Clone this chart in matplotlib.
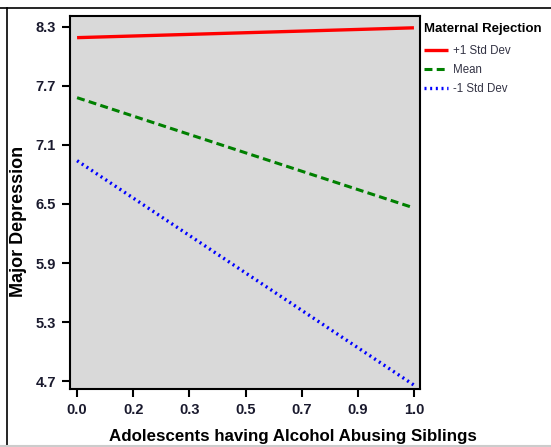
import matplotlib.pyplot as plt
from matplotlib.lines import Line2D

plt.rcParams['font.family'] = ['Liberation Sans', 'DejaVu Sans']

# simple slopes: predicted depression at the two ends of the sibling variable
x_ends = [0.0, 1.0]
plus_sd = [8.19, 8.29]
mean_line = [7.58, 6.46]
minus_sd = [6.94, 4.66]

series_labels = ['+1 Std Dev', 'Mean', '-1 Std Dev']
x_tick_pos = [0, 1/6, 2/6, 3/6, 4/6, 5/6, 1]
x_tick_labels = ['0.0', '0.2', '0.3', '0.5', '0.7', '0.9', '1.0']
y_ticks = [4.7, 5.3, 5.9, 6.5, 7.1, 7.7, 8.3]

fig = plt.figure(figsize=(5.51, 4.47), dpi=100)
ax = fig.add_axes([70/551, 1 - 389/447, 350/551, 373/447])
ax.set_facecolor('#d9d9d9')

ax.plot(x_ends, plus_sd, color='#ff0000', lw=2.4, solid_capstyle='butt', label=series_labels[0])
ax.plot(x_ends, mean_line, color='#008000', lw=2.2, ls=(0, (2.6, 1.4)), label=series_labels[1])
ax.plot(x_ends, minus_sd, color='#0000ff', lw=2.4, ls=(0, (0.6, 1.1)), label=series_labels[2])

ax.set_xlim(-0.021, 1.018)
ax.set_ylim(4.62, 8.41)
ax.set_xticks(x_tick_pos)
ax.set_xticklabels(x_tick_labels)
ax.set_yticks(y_ticks)
ax.set_yticklabels([f'{v:.1f}' for v in y_ticks])
ax.tick_params(direction='out', length=6, width=1.5, color='black', pad=4)
for lab in ax.get_xticklabels() + ax.get_yticklabels():
    lab.set_fontweight('bold')
    lab.set_fontsize(10.5)
    lab.set_color('#1a1a2e')
for s in ax.spines.values():
    s.set_linewidth(1.5)

fig.text(293/551, 1 - 437/447, 'Adolescents having Alcohol Abusing Siblings',
         ha='center', va='center', fontsize=12.2, fontweight='bold')
fig.text(19/551, 1 - 221/447, 'Major Depression', rotation=90,
         ha='center', va='center', fontsize=13, fontweight='bold')

leg = ax.legend(loc='upper left', bbox_to_anchor=(419/551, 1 - 18/447),
                bbox_transform=fig.transFigure, frameon=False,
                title='Maternal Rejection', fontsize=8.3,
                title_fontproperties={'weight': 'bold', 'size': 9.5},
                handlelength=2.1, handletextpad=0.45, labelspacing=0.62,
                borderaxespad=0, alignment='left')
leg._legend_box.sep = 7.5  # a little more room under the title
for t in leg.get_texts():
    t.set_color('#333344')

# outer frame lines
fig.add_artist(Line2D([0, 1], [1 - 8/447, 1 - 8/447], transform=fig.transFigure, color='black', lw=1.2))
fig.add_artist(Line2D([7/551, 7/551], [1 - 8/447, 1 - 445/447], transform=fig.transFigure, color='black', lw=1.2))
fig.add_artist(Line2D([0, 1], [1 - 445.5/447, 1 - 445.5/447], transform=fig.transFigure, color='#cccccc', lw=1.5))

fig.savefig('out.png', dpi=100)
